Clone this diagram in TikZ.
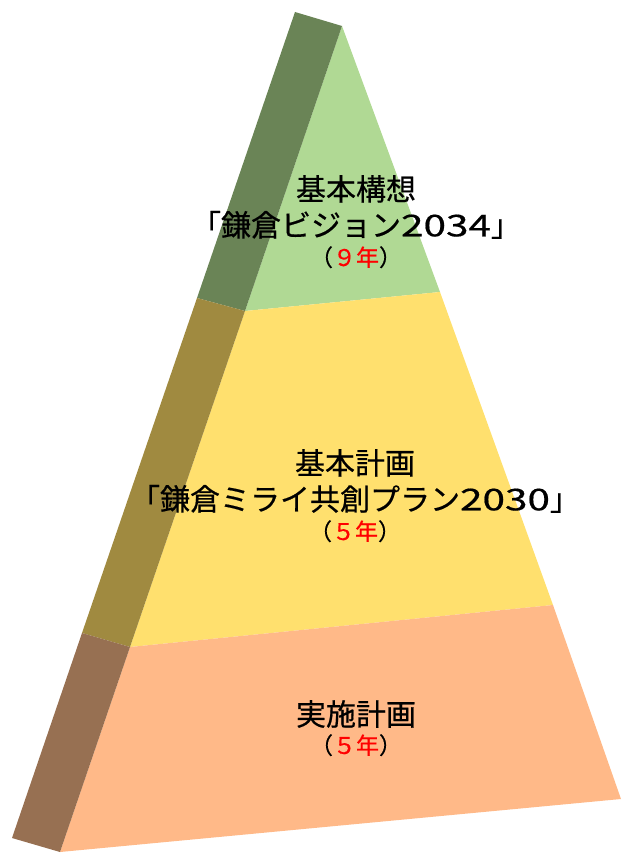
\documentclass[tikz,border=0pt]{standalone}
\usepackage{fontspec}
\setmainfont{Noto Sans CJK JP}[FakeBold=0.5]
\usepackage{xcolor}
\definecolor{cgreen}{HTML}{B0D994}
\definecolor{cgreenside}{HTML}{6A8456}
\definecolor{cyellow}{HTML}{FFE06E}
\definecolor{cyellowside}{HTML}{A08A40}
\definecolor{corange}{HTML}{FFB988}
\definecolor{corangeside}{HTML}{977052}
\usepackage{tikz}
\usetikzlibrary{positioning}
\newcommand{\widedigits}[1]{\scalebox{1.35}[1]{#1}}
\tikzset{
Face/.style={
	fill=#1,
	draw=none
},
Title/.style={
	font=\fontsize{30}{36}\selectfont,
	align=center,
	inner sep=0pt
},
Years/.style={
	font=\fontsize{23}{26}\selectfont,
	inner sep=0pt
}
}

\begin{document}
\begin{tikzpicture}[x=1pt, y=-1pt]
	\useasboundingbox (0,0) rectangle (621,853);

	% corners of the three layers
	\coordinate (ST) at (295,12);
	\coordinate (FT) at (342,26);
	\coordinate (S1) at (197,298);
	\coordinate (F1L) at (245,311);
	\coordinate (F1R) at (440,292);
	\coordinate (S2) at (82,633);
	\coordinate (F2L) at (130,647);
	\coordinate (F2R) at (553,605);
	\coordinate (S3) at (12,838);
	\coordinate (F3L) at (60,852);
	\coordinate (F3R) at (621,799);

	\fill[Face=cgreen] (FT) -- (F1R) -- (F1L) -- cycle;
	\fill[Face=cgreenside] (ST) -- (FT) -- (F1L) -- (S1) -- cycle;
	\fill[Face=cyellow] (F1L) -- (F1R) -- (F2R) -- (F2L) -- cycle;
	\fill[Face=cyellowside] (S1) -- (F1L) -- (F2L) -- (S2) -- cycle;
	\fill[Face=corange] (F2L) -- (F2R) -- (F3R) -- (F3L) -- cycle;
	\fill[Face=corangeside] (S2) -- (F2L) -- (F3L) -- (S3) -- cycle;

	\node[Title] (vision) at (356,207) {基本構想\\「鎌倉ビジョン\widedigits{2034}」};
	\node[Years, below=7pt of vision] (visionyears) {（\textcolor{red}{９年}）};

	\node[Title] (basic) at (355,481) {基本計画\\「鎌倉ミライ共創プラン\widedigits{2030}」};
	\node[Years, below=7pt of basic] (basicyears) {（\textcolor{red}{５年}）};

	\node[Title] (action) at (356,714) {実施計画};
	\node[Years, below=6pt of action] (actionyears) {（\textcolor{red}{５年}）};
\end{tikzpicture}
\end{document}
